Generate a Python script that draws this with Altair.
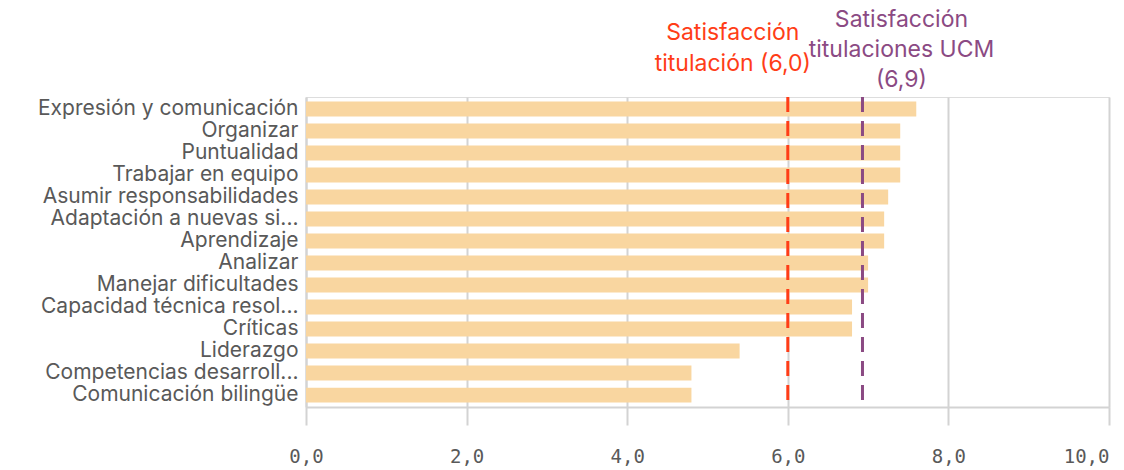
import altair as alt
import pandas as pd

categories = [
    "Expresión y comunicación",
    "Organizar",
    "Puntualidad",
    "Trabajar en equipo",
    "Asumir responsabilidades",
    "Adaptación a nuevas si...",
    "Aprendizaje",
    "Analizar",
    "Manejar dificultades",
    "Capacidad técnica resol...",
    "Críticas",
    "Liderazgo",
    "Competencias desarroll...",
    "Comunicación bilingüe",
]
values = [7.6, 7.4, 7.4, 7.4, 7.25, 7.2, 7.2, 7.0, 7.0, 6.8, 6.8, 5.4, 4.8, 4.8]

ref_names = ["titulacion", "ucm"]
ref_values = [6.0, 6.93]
ref_labels = ["Satisfacción\ntitulación (6,0)", "Satisfacción\ntitulaciones UCM\n(6,9)"]
ref_colors = ["#ff3d17", "#8b4a83"]

bar_color = "#f9d6a0"
label_color = "#595959"
grid_color = "#d3d3d3"
font = "Inter"

df = pd.DataFrame({"cat": categories, "val": values})
ref = pd.DataFrame({"name": ref_names, "val": ref_values, "label": ref_labels, "color": ref_colors})

x_scale = alt.Scale(domain=[0, 10], nice=False, zero=True)

bars = alt.Chart(df).mark_bar(color=bar_color).encode(
    x=alt.X(
        "val:Q",
        scale=x_scale,
        axis=alt.Axis(
            title=None,
            values=[0, 2, 4, 6, 8, 10],
            labelExpr="replace(format(datum.value, '.1f'), '.', ',')",
            labelFont="DejaVu Sans Mono",
            labelFontSize=19,
            labelColor=label_color,
            labelPadding=22,
            labelAlign=alt.ExprRef(expr="datum.value == 10 ? 'right' : 'center'"),
            tickSize=18,
            tickColor=grid_color,
            tickWidth=2,
            domainColor=grid_color,
            domainWidth=2,
            grid=True,
            gridColor=grid_color,
            gridWidth=2,
        ),
    ),
    y=alt.Y(
        "cat:N",
        sort=None,
        scale=alt.Scale(paddingInner=0.32, paddingOuter=0.2),
        axis=alt.Axis(
            title=None,
            ticks=False,
            domainColor=grid_color,
            domainWidth=2,
            labelFont=font,
            labelFontSize=21,
            labelColor=label_color,
            labelPadding=8,
            labelLimit=400,
        ),
    ),
)

rules = alt.Chart(ref).mark_rule(strokeDash=[15, 9], strokeWidth=3).encode(
    x=alt.X("val:Q", scale=x_scale),
    color=alt.Color("color:N", scale=None),
)

text_red = alt.Chart(ref).transform_filter(alt.datum.name == "titulacion").mark_text(
    lineBreak="\n", align="center", baseline="top", font=font, fontSize=23,
    lineHeight=31, dx=-55,
).encode(
    x=alt.X("val:Q", scale=x_scale),
    y=alt.value(-75),
    text="label:N",
    color=alt.Color("color:N", scale=None),
)

text_purple = alt.Chart(ref).transform_filter(alt.datum.name == "ucm").mark_text(
    lineBreak="\n", align="center", baseline="top", font=font, fontSize=23,
    lineHeight=30, dx=39,
).encode(
    x=alt.X("val:Q", scale=x_scale),
    y=alt.value(-88),
    text="label:N",
    color=alt.Color("color:N", scale=None),
)

chart = alt.layer(bars, rules, text_red, text_purple).properties(
    width=803,
    height=310,
    autosize=alt.AutoSizeParams(type="none"),
    padding={"left": 298, "top": 89, "right": 7, "bottom": 63},
).configure_view(stroke=None).configure(background="white")

chart.save("out.html", embed_options={"renderer": "svg", "actions": False})
